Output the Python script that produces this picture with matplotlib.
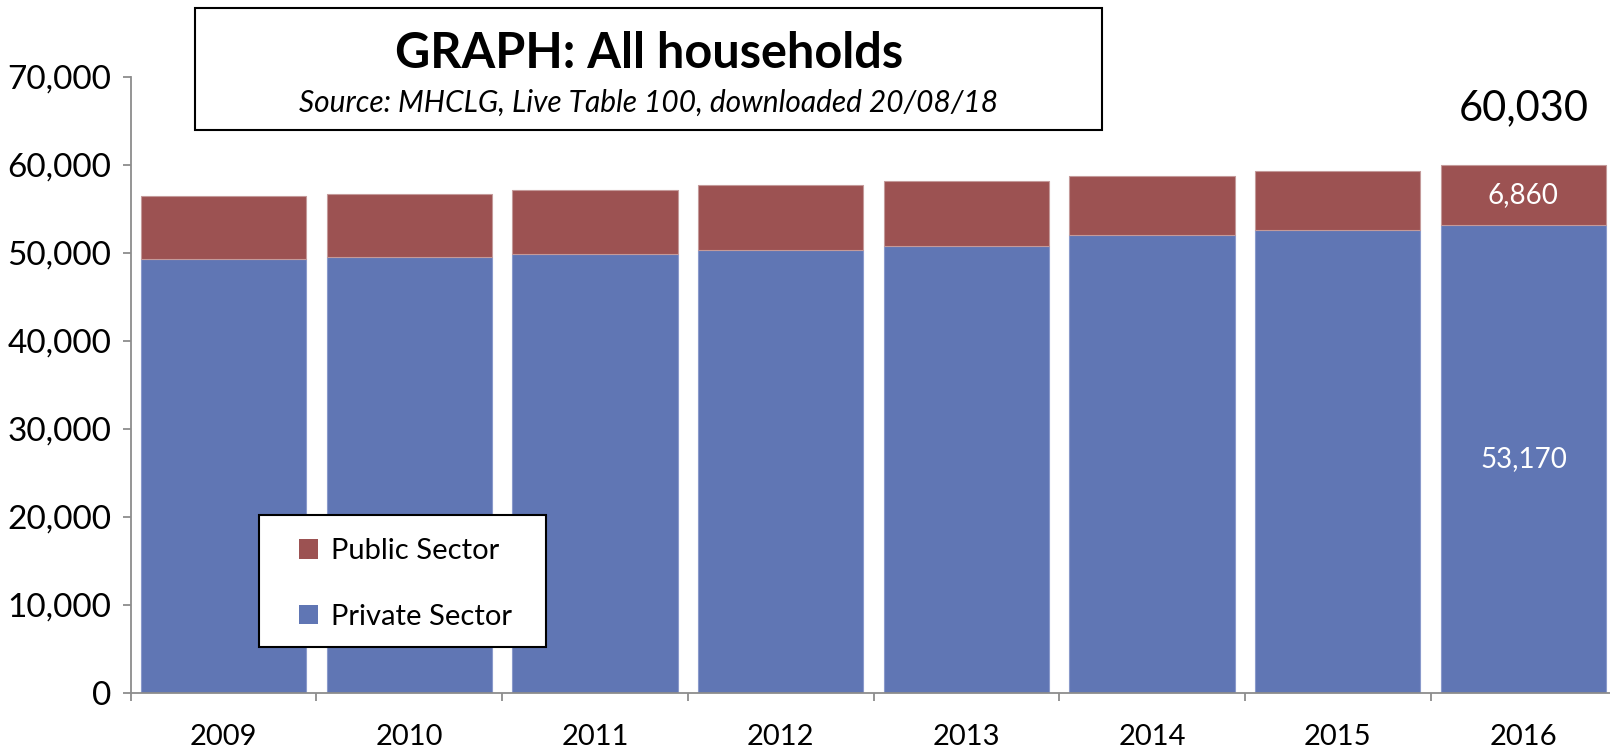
import numpy as np
import matplotlib.pyplot as plt
from matplotlib.patches import Rectangle
from matplotlib.ticker import FuncFormatter, FixedLocator

plt.rcParams['font.family'] = ['Lato', 'DejaVu Sans']

# households by sector (MHCLG Live Table 100)
years = ["2009", "2010", "2011", "2012", "2013", "2014", "2015", "2016"]
private_sector = [49310, 49540, 49880, 50330, 50790, 52040, 52560, 53170]
public_sector = [7150, 7150, 7260, 7350, 7340, 6710, 6770, 6860]

BLUE = "#6076B4"
RED = "#9C5252"

fig = plt.figure(figsize=(16.1, 7.49), dpi=100)
ax = fig.add_axes([0.0812, 0.0748, 0.9227, 0.8224])

x = np.arange(len(years))
totals = np.array(private_sector) + np.array(public_sector)

ax.bar(x, private_sector, width=0.89, color=BLUE, edgecolor="#8A9ACB", linewidth=0.8,
       label="Private Sector", zorder=2)
ax.bar(x, public_sector, width=0.89, bottom=private_sector, color=RED, edgecolor="#C49A9A",
       linewidth=0.8, label="Public Sector", zorder=2)

ax.set_xlim(-0.5, len(years) - 0.5)
ax.set_ylim(0, 70000)

# axes styling
for s in ["top", "right"]:
    ax.spines[s].set_visible(False)
for s in ["left", "bottom"]:
    ax.spines[s].set_color("#8C8C8C")
    ax.spines[s].set_linewidth(1.3)

ax.set_yticks(np.arange(0, 70001, 10000))
ax.yaxis.set_major_formatter(FuncFormatter(lambda v, p: f"{int(v):,}"))
ax.tick_params(axis="y", length=6, width=1.3, color="#8C8C8C", pad=8, labelsize=24)

ax.set_xticks(x)
ax.set_xticklabels(years)
ax.xaxis.set_minor_locator(FixedLocator(np.arange(-0.5, len(years), 1.0)))
ax.tick_params(axis="x", which="major", length=0, pad=22, labelsize=21)
ax.tick_params(axis="x", which="minor", length=6, width=1.3, color="#8C8C8C")

# labels on the last bar
last = len(years) - 1
ax.text(x[last], private_sector[last] / 2, f"{private_sector[last]:,}", color="white",
        ha="center", va="center", fontsize=20)
ax.text(x[last], private_sector[last] + public_sector[last] / 2, f"{public_sector[last]:,}",
        color="white", ha="center", va="center", fontsize=20)
ax.annotate(f"{totals[last]:,}", xy=(x[last], totals[last]), xytext=(0, 41),
            textcoords="offset points", ha="center", va="center", fontsize=30)

# legend, public sector listed first, inside a plain black box
fig.patches.append(Rectangle((259 / 1610, 1 - 647 / 749), 287 / 1610, 132 / 749,
                             transform=fig.transFigure, facecolor="white",
                             edgecolor="black", linewidth=1.5, zorder=3))
handles, labels = ax.get_legend_handles_labels()
leg = fig.legend(handles[::-1], labels[::-1], loc="center left",
                 bbox_to_anchor=(299 / 1610, 1 - 584 / 749), fontsize=21,
                 frameon=False, handlelength=0.65, handleheight=0.65, handletextpad=0.45,
                 labelspacing=1.35, borderpad=0, borderaxespad=0)
leg.set_zorder(4)
for h in leg.legend_handles:
    h.set_edgecolor("none")

# title box
fig.patches.append(Rectangle((195 / 1610, 1 - 130 / 749), 907 / 1610, 122 / 749,
                             transform=fig.transFigure, facecolor="white",
                             edgecolor="black", linewidth=1.5))
fig.text(649 / 1610, 1 - 54 / 749, "GRAPH: All households", ha="center", va="center",
         fontsize=35, fontweight="bold")
fig.text(649 / 1610, 1 - 103 / 749, "Source: MHCLG, Live Table 100, downloaded 20/08/18",
         ha="center", va="center", fontsize=21.5, style="italic")

plt.savefig("out.png", dpi=100)
